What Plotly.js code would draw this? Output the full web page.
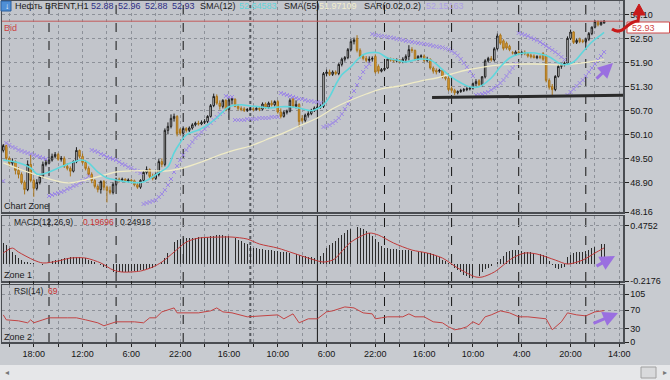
<!DOCTYPE html>
<html><head><meta charset="utf-8">
<script src="https://cdn.plot.ly/plotly-3.0.1.min.js"></script>
<style>html,body{margin:0;padding:0;background:#c8cbd0;}#chart{width:670px;height:380px;}</style>
</head><body><div id="chart"></div>
<script>
// ---------- DATA ----------
const openP = [
49.70,49.82,49.50,49.38,49.42,49.20,49.10,48.90,48.72,49.35,
48.95,48.75,48.90,49.05,49.35,49.38,49.46,49.55,49.60,49.48,
49.50,49.30,49.25,49.18,49.42,49.70,49.55,49.40,49.25,49.10,
48.95,48.80,48.72,48.92,48.78,48.70,48.65,48.85,48.98,48.95,
48.98,48.93,48.96,48.94,48.84,48.78,48.95,49.15,49.22,49.05,
49.00,49.10,49.42,49.35,50.20,50.30,50.50,50.55,50.22,50.13,
50.25,50.20,50.26,50.34,50.38,50.36,50.40,50.42,50.55,50.82,
51.05,50.88,50.80,50.95,50.72,50.96,50.98,50.80,50.75,50.74,
50.70,50.72,50.74,50.72,50.75,50.73,50.86,50.78,50.88,50.84,
50.92,50.66,50.55,50.65,50.68,50.98,50.80,50.85,50.50,50.45,
50.58,50.62,50.70,50.76,50.78,50.80,51.62,51.66,51.60,51.66,
51.62,51.85,51.98,52.02,52.22,52.42,52.50,52.20,52.05,52.00,
51.95,51.98,52.05,51.80,51.68,51.72,51.76,51.98,51.96,51.94,
51.96,51.92,51.98,52.05,52.22,52.20,51.98,52.05,52.06,51.95,
51.98,51.76,51.70,51.68,51.70,51.54,51.50,51.25,51.20,51.14,
51.17,51.20,51.22,51.24,51.26,51.37,51.44,51.34,51.54,51.94,
52.00,51.96,52.24,52.58,52.44,52.38,52.30,52.14,52.10,52.16,
52.12,52.15,52.12,52.08,52.06,52.02,52.04,52.12,52.06,51.45,
51.30,51.22,51.55,51.80,51.84,51.88,52.50,52.66,52.40,52.48,
52.44,52.42,52.48,52.62,52.78,52.92,52.84,52.88];
const highP = [
49.86,49.84,49.55,49.50,49.45,49.28,49.15,48.95,49.45,49.60,
49.00,48.98,49.10,49.42,49.48,49.52,49.62,49.66,49.64,49.56,
49.55,49.38,49.30,49.45,49.78,49.72,49.62,49.45,49.30,49.15,
48.98,48.85,48.95,48.96,48.82,48.80,48.90,49.02,49.02,49.02,
49.00,49.00,48.99,48.97,48.88,48.98,49.20,49.30,49.25,49.12,
49.15,49.48,49.50,50.25,50.40,50.60,50.62,50.58,50.26,50.30,
50.28,50.30,50.38,50.42,50.44,50.45,50.48,50.58,50.86,51.12,
51.10,50.95,50.98,50.98,51.00,51.02,51.00,50.86,50.80,50.78,
50.76,50.78,50.78,50.80,50.78,50.90,50.90,50.92,50.95,50.95,
50.96,50.75,50.70,50.72,51.00,51.02,50.95,50.88,50.58,50.62,
50.68,50.74,50.80,50.82,50.85,51.66,51.72,51.72,51.70,51.70,
51.88,52.02,52.06,52.26,52.48,52.52,52.58,52.25,52.10,52.06,
52.05,52.05,52.10,51.85,51.76,51.80,52.02,52.02,52.00,52.00,
51.98,52.03,52.10,52.33,52.28,52.22,52.08,52.10,52.10,52.04,
52.00,51.80,51.75,51.74,51.72,51.58,51.55,51.30,51.24,51.20,
51.24,51.26,51.28,51.30,51.40,51.48,51.48,51.56,51.98,52.04,
52.06,52.28,52.62,52.62,52.48,52.42,52.34,52.18,52.20,52.20,
52.18,52.20,52.15,52.12,52.10,52.08,52.08,52.16,52.10,51.50,
51.36,51.58,51.84,51.88,51.92,52.55,52.72,52.68,52.50,52.52,
52.48,52.52,52.66,52.80,52.96,52.95,52.94,52.96];
const lowP = [
49.65,49.45,49.30,49.32,49.10,49.00,48.85,48.60,48.68,48.90,
48.54,48.70,48.85,49.00,49.30,49.35,49.42,49.50,49.44,49.42,
49.26,49.20,49.05,49.15,49.38,49.50,49.35,49.20,49.05,48.88,
48.75,48.65,48.62,48.70,48.40,48.60,48.60,48.82,48.90,48.92,
48.90,48.90,48.90,48.80,48.74,48.74,48.92,49.10,49.00,48.95,
48.96,49.05,49.28,49.30,50.10,50.25,50.42,50.05,50.08,50.10,
50.15,50.16,50.22,50.30,50.32,50.33,50.36,50.38,50.52,50.78,
50.84,50.72,50.75,50.68,50.46,50.85,50.78,50.70,50.68,50.66,
50.66,50.70,50.68,50.70,50.68,50.70,50.74,50.74,50.80,50.80,
50.62,50.50,50.52,50.60,50.65,50.76,50.75,50.28,50.40,50.40,
50.52,50.58,50.66,50.72,50.74,50.76,51.55,51.56,51.56,51.58,
51.58,51.80,51.92,51.98,52.18,52.35,52.15,52.00,51.95,51.90,
51.90,51.92,51.62,51.62,51.65,51.68,51.74,51.92,51.90,51.90,
51.88,51.88,51.90,51.95,52.14,51.94,51.94,52.00,51.90,51.90,
51.72,51.62,51.60,51.64,51.50,51.45,51.18,51.14,51.08,51.10,
51.14,51.16,51.18,51.20,51.22,51.30,51.30,51.30,51.50,51.90,
51.92,51.92,52.20,52.34,52.20,52.22,52.18,52.10,52.06,52.08,
52.08,52.08,52.02,52.00,52.00,51.98,51.98,51.94,51.40,51.22,
51.08,51.18,51.52,51.74,51.80,51.85,52.46,52.36,52.36,52.38,
52.38,52.38,52.44,52.58,52.75,52.80,52.82,52.88];
const closeP = [
49.82,49.50,49.38,49.42,49.20,49.10,48.90,48.72,49.35,48.95,
48.75,48.90,49.05,49.35,49.40,49.46,49.55,49.60,49.48,49.50,
49.30,49.25,49.18,49.42,49.70,49.55,49.40,49.25,49.10,48.95,
48.80,48.72,48.92,48.78,48.70,48.65,48.85,48.98,48.95,48.98,
48.93,48.96,48.94,48.84,48.78,48.95,49.15,49.22,49.05,49.00,
49.10,49.42,49.35,50.20,50.30,50.50,50.55,50.12,50.13,50.25,
50.20,50.26,50.34,50.38,50.36,50.40,50.42,50.55,50.82,51.05,
50.88,50.80,50.95,50.72,50.96,50.98,50.80,50.75,50.72,50.70,
50.72,50.74,50.72,50.75,50.73,50.86,50.78,50.88,50.84,50.92,
50.66,50.55,50.65,50.68,50.95,50.80,50.85,50.42,50.45,50.58,
50.62,50.70,50.76,50.78,50.80,51.62,51.66,51.60,51.66,51.62,
51.85,51.98,52.02,52.22,52.42,52.46,52.20,52.05,52.00,51.95,
51.98,52.00,51.66,51.68,51.72,51.75,51.98,51.96,51.94,51.96,
51.92,51.98,52.05,52.22,52.20,51.98,52.05,52.06,51.95,51.98,
51.76,51.68,51.66,51.70,51.54,51.50,51.22,51.20,51.14,51.17,
51.20,51.22,51.24,51.26,51.37,51.42,51.34,51.54,51.94,52.00,
51.96,52.24,52.56,52.38,52.25,52.26,52.22,52.14,52.16,52.12,
52.15,52.12,52.06,52.04,52.02,52.04,52.03,51.98,51.45,51.28,
51.22,51.55,51.80,51.85,51.88,52.50,52.66,52.40,52.45,52.42,
52.42,52.48,52.62,52.78,52.92,52.84,52.90,52.93];

const sma12Bar = [0,5,9,11,13,15,19,23,26,28,31,34,37,41,44,46,49,51,54,56,58,60,64,67,70,74,78,81,84,87,91,94,97,101,103,105,107,109,111,114,116,118,120,123,126,129,132,136,140,143,146,150,153,156,160,163,166,169,173,176,179,182,184,187,190,193,196,197];
const sma12Val = [49.46,49.39,49.26,49.11,49.11,49.16,49.29,49.41,49.46,49.39,49.16,49.01,48.96,48.91,48.89,48.91,49.04,49.14,49.29,49.64,49.89,50.09,50.21,50.34,50.51,50.79,50.84,50.81,50.79,50.76,50.79,50.79,50.76,50.69,50.74,50.84,51.04,51.34,51.59,51.79,51.96,52.09,52.14,52.14,52.01,51.96,51.91,51.98,51.96,51.79,51.59,51.39,51.29,51.29,51.51,51.79,52.01,52.11,52.14,52.11,52.04,51.89,51.84,51.91,52.16,52.41,52.59,52.65];

const sma55Bar = [0,10,21,27,32,37,43,48,54,59,65,70,75,81,86,92,97,103,108,114,119,124,130,137,142,147,152,163,174,183,190,197];
const sma55Val = [49.39,49.11,48.89,48.96,49.06,49.16,49.19,49.19,49.19,49.26,49.41,49.56,49.69,49.81,49.96,50.14,50.31,50.51,50.74,50.96,51.11,51.24,51.31,51.44,51.51,51.61,51.71,51.84,51.86,51.84,51.89,51.97];

const sarVal = [
48.935,
49.885,49.835,49.785,49.76,49.71,49.685,49.66,49.635,49.61,49.585,49.56,49.535,49.51,49.485,
48.56,48.585,48.61,48.635,48.66,48.685,48.735,48.76,48.81,48.835,48.885,48.935,48.985,49.06,
49.71,49.685,49.66,49.61,49.585,49.535,49.51,49.485,49.46,49.41,49.36,49.335,49.285,49.26,49.21,49.185,49.135,
48.36,48.385,48.41,48.435,48.46,48.535,48.61,48.71,48.835,48.985,49.16,49.31,49.46,49.585,49.71,49.81,49.91,50.01,50.085,50.16,50.235,50.31,50.385,50.46,50.535,50.61,50.66,
51.06,51.035,51.035,
50.46,50.46,50.46,50.46,50.485,50.485,50.485,50.485,50.51,50.51,50.51,50.51,50.535,50.535,50.535,
51.135,51.11,51.085,51.06,51.035,51.01,50.985,50.985,50.96,50.935,50.935,50.91,50.91,50.885,
50.285,50.31,50.335,50.385,50.435,50.51,50.61,50.735,50.86,51.01,51.185,51.335,51.51,51.66,51.785,51.86,
52.61,52.585,52.573,52.56,52.548,52.535,52.523,52.51,52.485,52.473,52.46,52.435,52.423,52.41,52.398,52.385,52.373,52.36,52.348,52.335,52.31,52.298,52.285,52.273,52.248,52.223,52.185,52.135,52.073,51.985,51.885,51.785,51.685,51.56,
51.085,51.098,51.11,51.135,51.16,51.21,51.26,51.31,51.385,51.46,51.56,51.66,51.76,51.86,
52.635,52.61,52.585,52.56,52.52,52.485,52.45,52.41,52.36,52.31,52.26,52.21,52.16,52.10,52.035,51.97,
51.085,51.16,51.235,51.31,51.385,51.46,51.56,51.66,51.76,51.86,51.96,52.06,52.16];

const macdHist = [
0.26,0.23,0.20,0.15,0.11,0.07,0.045,0.025,0.02,0.01,0.005,0.0,-0.01,-0.015,-0.01,
0.01,0.03,0.04,0.05,0.06,0.07,0.075,0.08,0.085,0.085,0.08,0.075,0.065,
0.05,0.035,0.02,0.0,-0.02,
-0.04,-0.06,-0.085,-0.10,-0.115,
-0.11,-0.105,-0.10,-0.10,-0.095,-0.095,-0.09,-0.085,-0.08,-0.07,-0.06,-0.05,
-0.03,-0.01,0.02,0.07,0.13,0.20,0.27,
0.30,0.31,0.32,0.32,0.32,0.325,0.325,0.33,0.33,0.335,0.34,0.345,0.35,0.36,0.36,0.355,0.35,0.345,0.335,0.32,
0.30,0.28,0.26,0.24,0.22,0.20,
0.19,0.185,0.18,0.175,0.17,0.165,0.16,0.155,0.15,0.145,
0.14,0.135,0.13,0.12,0.105,0.095,0.09,0.085,0.08,0.075,0.07,
0.09,0.13,0.19,0.23,0.26,
0.29,0.32,0.36,0.39,0.42,0.44,0.45,0.455,0.45,0.43,0.41,0.38,0.35,0.31,0.27,0.22,0.19,
0.19,0.185,0.18,0.18,0.175,0.17,0.17,0.165,0.16,0.155,0.15,0.145,0.14,0.135,0.13,0.12,
0.10,0.08,0.05,0.03,0.01,
-0.02,-0.05,-0.08,-0.11,-0.14,-0.16,-0.18,-0.18,-0.17,-0.15,-0.10,-0.07,-0.05,-0.03,-0.01,0.02,
0.06,0.10,0.14,0.16,0.17,0.17,0.165,
0.155,0.15,0.145,0.14,0.135,0.13,0.12,0.11,0.09,
0.03,-0.02,-0.05,-0.07,-0.06,-0.04,
0.08,0.11,0.13,0.14,0.145,0.15,0.16,0.17,0.19,0.21,0.225,0.24,0.249];

const sigBar = [0,3,5,10,13,18,22,27,32,36,39,45,49,52,56,60,64,71,75,80,84,90,95,101,105,108,109,114,120,123,128,134,139,144,149,155,157,161,167,171,175,181,185,190,194,197];
const sigVal = [0.133,0.195,0.145,0.045,0.008,0.033,0.07,0.07,0.008,-0.08,-0.105,-0.093,-0.043,0.02,0.145,0.27,0.32,0.333,0.333,0.308,0.246,0.195,0.133,0.058,0.02,0.045,0.07,0.27,0.383,0.358,0.258,0.17,0.133,0.07,-0.055,-0.168,-0.168,-0.105,0.07,0.133,0.12,0.045,-0.005,0.045,0.133,0.197];

const rsiBar = [0,1,5,8,9,10,13,15,21,24,27,31,33,36,37,43,46,48,50,52,55,56,57,60,64,68,70,72,75,80,84,90,92,95,97,100,103,106,108,112,115,118,121,122,124,126,131,133,135,138,141,144,146,148,150,152,154,156,158,160,163,166,169,172,175,178,180,182,183,185,188,191,194,197];
const rsiVal = [59.7,48.8,46.6,42.2,48.8,42.2,48.8,53.2,53.2,53.2,48.8,42.2,35.7,42.2,44.4,44.4,42.2,53.2,53.2,66.3,72.9,75,64.1,64.1,64.1,68.5,75,66.3,64.1,55.4,57.5,59.7,51,61.9,42.2,51,51,66.3,68.5,77.2,75,64.1,61.9,51,53.2,55.4,55.4,61.9,55.4,55.4,44.4,42.2,33.5,26.9,29.1,33.5,44.4,37.9,55.4,59.7,68.5,64.1,55.4,55.4,53.2,51,26.9,37.9,44.4,64.1,59.7,57.5,66.3,69];

const timeTickBar = [2,10,18,26,34,42,50,58,66,74,82,90,98,106,114,122,130,138,146,154,162,170,178,186,194,202];
const timeTickText = ['','18:00','','12:00','','6:00','','22:00','','16:00','','10:00','','6:00','','22:00','','16:00','','10:00','','4:00','','20:00','','14:00'];
const daySepBar = [15,37,59,81,103,125,147,169,191];
const priceTicks = [48.16,48.90,49.50,50.10,50.70,51.30,51.90,52.50,53.10];
const macdTicks = [-0.2176,0.4752];
const rsiTicks = [0,30,70,105];
const bidPrice = 52.93;
const supportBar = [140.6,203.2];
const supportPrice = [51.02,51.08];

// ---------- CHART ----------
const bars = openP.map((_, i) => i);
const W = 670, H = 380;
const fx = v => v / W, fy = v => 1 - v / H;
const F = "'Liberation Sans',Arial,sans-serif";
const FS = 9;
const GRID = '#8d9199', FRAME = '#4a4d52';

const traces = [
  {type:'scatter', mode:'markers', x:bars, y:sarVal, xaxis:'x', yaxis:'y', hoverinfo:'skip',
   marker:{symbol:'x-thin', size:4, line:{width:1, color:'#9c86e6'}}},
  {type:'scatter', mode:'lines', x:sma55Bar, y:sma55Val, xaxis:'x', yaxis:'y', hoverinfo:'skip',
   line:{color:'#efebc6', width:1.3, shape:'spline', smoothing:1}},
  {type:'scatter', mode:'lines', x:sma12Bar, y:sma12Val, xaxis:'x', yaxis:'y', hoverinfo:'skip',
   line:{color:'#5fd6dc', width:1.6, shape:'spline', smoothing:1}},
  {type:'candlestick', x:bars, open:openP, high:highP, low:lowP, close:closeP, xaxis:'x', yaxis:'y',
   hoverinfo:'skip', whiskerwidth:0,
   increasing:{line:{color:'#1c1c1c', width:1}, fillcolor:'#f7f7f7'},
   decreasing:{line:{color:'#a8741c', width:1}, fillcolor:'#eaa535'}},
  {type:'bar', x:bars, y:macdHist, xaxis:'x', yaxis:'y2', width:0.32, hoverinfo:'skip',
   marker:{color:'#2b2b2b', line:{width:0}}},
  {type:'scatter', mode:'lines', x:sigBar, y:sigVal, xaxis:'x', yaxis:'y2', hoverinfo:'skip',
   line:{color:'#c03a3a', width:1, shape:'spline', smoothing:0.8}},
  {type:'scatter', mode:'lines', x:rsiBar, y:rsiVal, xaxis:'x', yaxis:'y3', hoverinfo:'skip',
   line:{color:'#c24444', width:1}}
];

const yBase = {side:'right', anchor:'x', showgrid:true, gridcolor:GRID, griddash:'dot', gridwidth:1,
  zeroline:false, showline:true, linecolor:FRAME, linewidth:1.5, mirror:true,
  ticks:'outside', ticklen:4, tickcolor:'#222', tickfont:{family:F, size:FS, color:'#151515'}, fixedrange:true};

const layout = {
  width:W, height:H, margin:{l:0, r:0, t:0, b:0},
  paper_bgcolor:'#c8cbd0', plot_bgcolor:'#c2c5cb', showlegend:false, bargap:0,
  xaxis:{domain:[fx(2), fx(623)], range:[-0.41, 203.2], anchor:'y3',
    tickmode:'array', tickvals:timeTickBar, ticktext:timeTickText,
    showgrid:true, gridcolor:GRID, griddash:'dot', gridwidth:1, zeroline:false,
    showline:true, linecolor:FRAME, linewidth:1.5, mirror:'all',
    ticks:'outside', ticklen:3, tickcolor:'#222', tickfont:{family:F, size:FS, color:'#151515'},
    rangeslider:{visible:false}, fixedrange:true},
  yaxis:Object.assign({}, yBase, {domain:[fy(212), fy(1)], range:[48.16, 53.435],
    tickmode:'array', tickvals:priceTicks, ticktext:priceTicks.map(v => v.toFixed(2))}),
  yaxis2:Object.assign({}, yBase, {domain:[fy(281), fy(216)], range:[-0.2176, 0.597],
    tickmode:'array', tickvals:macdTicks, ticktext:macdTicks.map(v => v.toFixed(4))}),
  yaxis3:Object.assign({}, yBase, {domain:[fy(342), fy(285)], range:[0, 125.4],
    tickmode:'array', tickvals:rsiTicks, ticktext:rsiTicks.map(String)}),
  shapes:[], annotations:[]
};

// day separators in each panel
['y domain','y2 domain','y3 domain'].forEach(yr => {
  daySepBar.forEach((b, k) => {
    let line = {color:'#151515', width:1, dash:'dash'};
    if (k === 3) line = {color:'#55585e', width:2, dash:'dot'};
    if (k === 4) line = {color:'#151515', width:1};
    layout.shapes.push({type:'line', layer:'below', xref:'x', x0:b, x1:b, yref:yr, y0:0, y1:1, line});
  });
});
// bid line
layout.shapes.push({type:'line', xref:'x domain', x0:0, x1:1, yref:'y', y0:bidPrice, y1:bidPrice,
  line:{color:'#c45a5a', width:1}});
// support line
layout.shapes.push({type:'line', xref:'x', x0:supportBar[0], x1:supportBar[1], yref:'y',
  y0:supportPrice[0], y1:supportPrice[1], line:{color:'#2a2a2a', width:3}});
// bottom scroll strip
layout.shapes.push({type:'rect', xref:'paper', yref:'paper', x0:0, x1:1, y0:0, y1:fy(365),
  fillcolor:'#e6e7e9', line:{width:0}});
layout.shapes.push({type:'rect', xref:'paper', yref:'paper', x0:fx(641), x1:fx(656), y0:fy(378), y1:fy(367),
  fillcolor:'#d9dadc', line:{width:1, color:'#a0a0a0'}});
// price box
layout.shapes.push({type:'rect', xref:'paper', yref:'paper', x0:fx(627), x1:fx(669.5), y0:fy(33), y1:fy(22),
  fillcolor:'#ffffff', line:{width:1, color:'#d04848'}});
// header icon
layout.shapes.push({type:'rect', xref:'paper', yref:'paper', x0:fx(1), x1:fx(11), y0:fy(11), y1:fy(1),
  fillcolor:'#4f8fd6', line:{width:1, color:'#2b5e9e'}});
// red curved arrow
const P = (x, y) => fx(x) + ',' + fy(y);
layout.shapes.push({type:'path', xref:'paper', yref:'paper',
  path:'M' + P(612,29) + ' Q' + P(619,34) + ' ' + P(626,27) + ' Q' + P(633,21) + ' ' + P(638,21) + ' L' + P(639,14),
  line:{color:'#c81a1a', width:3}});
layout.shapes.push({type:'path', xref:'paper', yref:'paper',
  path:'M' + P(633,15) + ' L' + P(645,15) + ' L' + P(639,4) + ' Z',
  fillcolor:'#c81a1a', line:{color:'#c81a1a', width:1}});

function txt(x, y, text, color, size) {
  layout.annotations.push({xref:'paper', yref:'paper', x:fx(x), y:fy(y), text,
    showarrow:false, xanchor:'left', yanchor:'middle', font:{family:F, size:size || FS, color}});
}
// header
txt(2.5, 6, '↓', '#ffffff', 8);
txt(13, 6.5, 'Нефть BRENT,H1', '#1b1b1b');
txt(89, 6.5, '52.88', '#2e2e86');
txt(116, 6.5, '52.96', '#2e2e86');
txt(143, 6.5, '52.88', '#2e2e86');
txt(170, 6.5, '52.93', '#2e2e86');
txt(198, 6.5, 'SMA(12)', '#1b1b1b');
txt(237, 6.5, '52.64583', '#5fd6dc');
txt(282, 6.5, 'SMA(55)', '#1b1b1b');
txt(317, 6.5, '51.97109', '#f2eecb');
txt(362, 6.5, 'SAR(0.02,0.2)', '#1b1b1b');
txt(424, 6.5, '52.15163', '#ad9fe6');
txt(2, 28, 'Bid', '#cc4444', 9);
txt(630, 27.5, '52.93', '#d04848');
// panel labels
txt(2, 206, 'Chart Zone', '#1b1b1b');
txt(12, 222, 'MACD(12,26,9)', '#1b1b1b', 8.5);
txt(81, 222, '0.19696', '#c83030', 8.5);
txt(118, 222, '0.24918', '#1b1b1b', 8.5);
txt(2, 275, 'Zone 1', '#1b1b1b');
txt(12, 291, 'RSI(14)', '#1b1b1b', 8.5);
txt(46, 291, '69', '#c83030', 8.5);
txt(2, 337, 'Zone 2', '#1b1b1b');
txt(3, 372, '◂', '#777777', 8);
txt(661, 372, '▸', '#777777', 8);
// purple arrows
function arrow(hx, hy, tx, ty) {
  layout.annotations.push({xref:'paper', yref:'paper', x:fx(hx), y:fy(hy), ax:tx - hx, ay:ty - hy,
    axref:'pixel', ayref:'pixel', text:'', showarrow:true, arrowhead:2, arrowsize:1, arrowwidth:3,
    arrowcolor:'#9a6fe0', standoff:0});
}
arrow(613, 63, 595, 80);
arrow(615, 256, 595, 267);
arrow(618, 313, 592, 324);

Plotly.newPlot('chart', traces, layout, {staticPlot:true, displayModeBar:false});
</script>
</body></html>
